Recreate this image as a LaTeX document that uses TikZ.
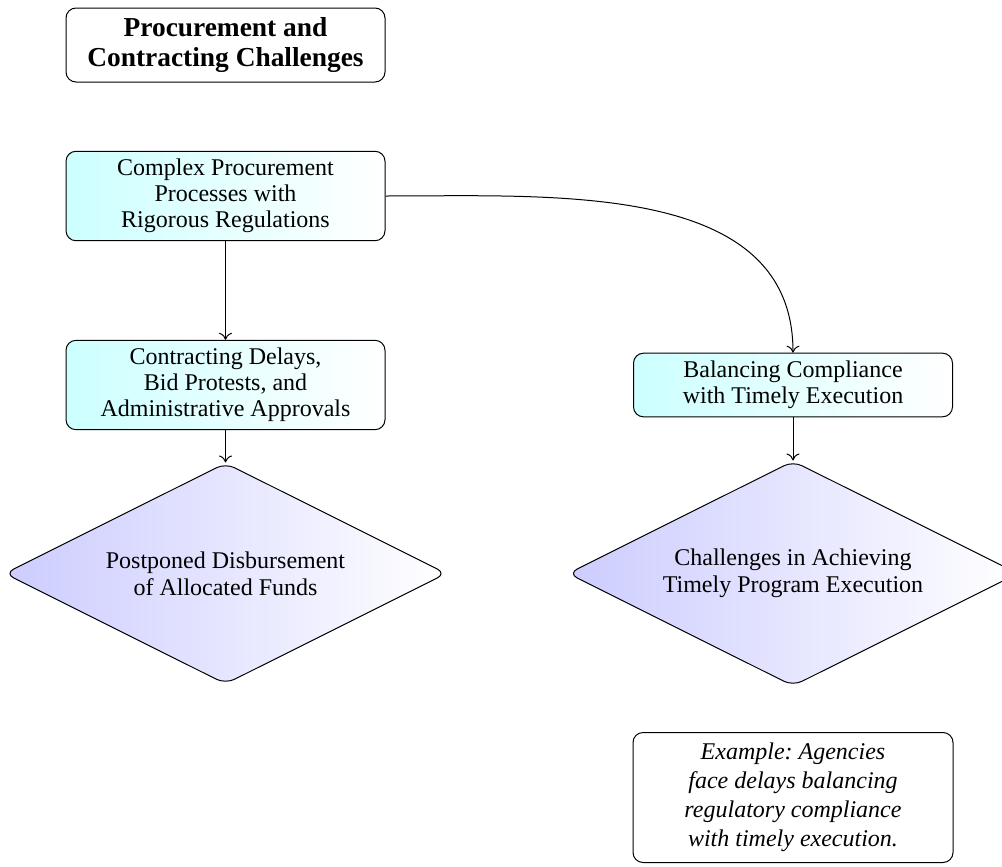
\documentclass[tikz,border=0pt]{standalone}
\usepackage{fontspec}
\setmainfont{Liberation Serif}
\frenchspacing
\usetikzlibrary{shapes.geometric,arrows.meta}
\tikzset{
  procbox/.style={draw, rounded corners=5pt, left color=cyan!20, right color=white, minimum width=159.5pt, align=center, inner sep=4pt, font=\fontsize{12}{12.9}\selectfont},
  titlebox/.style={draw, rounded corners=5pt, fill=white, minimum width=159.5pt, minimum height=37pt, align=center, font=\fontsize{13.7}{14.6}\selectfont\bfseries},
  decision/.style={diamond, draw, rounded corners=5pt, left color=blue!20, right color=white, aspect=2, align=center, inner sep=0pt, font=\fontsize{12}{13.5}\selectfont},
  examplebox/.style={draw, rounded corners=5pt, minimum width=160pt, minimum height=65pt, align=center, inner sep=4pt, font=\fontsize{12}{14.5}\selectfont\itshape},
  flow/.style={-{To[length=3.5pt,width=6.5pt]}},
}
\begin{document}
\begin{tikzpicture}[x=0.5pt,y=-0.5pt,line width=0.5pt]
\useasboundingbox (0,0) rectangle (1002,867);
\node[titlebox] (title) at (225.5,45) {Procurement and\\Contracting Challenges};
\node[procbox] (b1) at (225.5,196) {Complex Procurement\\Processes with\\Rigorous Regulations};
\node[procbox] (b2) at (225.5,385) {Contracting Delays,\\Bid Protests, and\\Administrative Approvals};
\node[procbox] (b3) at (793,385) {Balancing Compliance\\with Timely Execution};
\node[decision, minimum width=221pt, minimum height=110.5pt] (d1) at (225.5,573.5) {Postponed Disbursement\\of Allocated Funds};
\node[decision, minimum width=225pt, minimum height=112.5pt] (d2) at (793,573.5) {Challenges in Achieving\\Timely Program Execution};
\node[examplebox] (ex) at (793,797.5) {Example: Agencies\\face delays balancing\\regulatory compliance\\with timely execution.};
\draw[flow] (b1) -- (b2);
\draw[flow] (b1.east) to[out=0,in=90] (b3.north);
\draw[flow] (b2) -- (d1);
\draw[flow] (b3) -- (d2);
\end{tikzpicture}
\end{document}
